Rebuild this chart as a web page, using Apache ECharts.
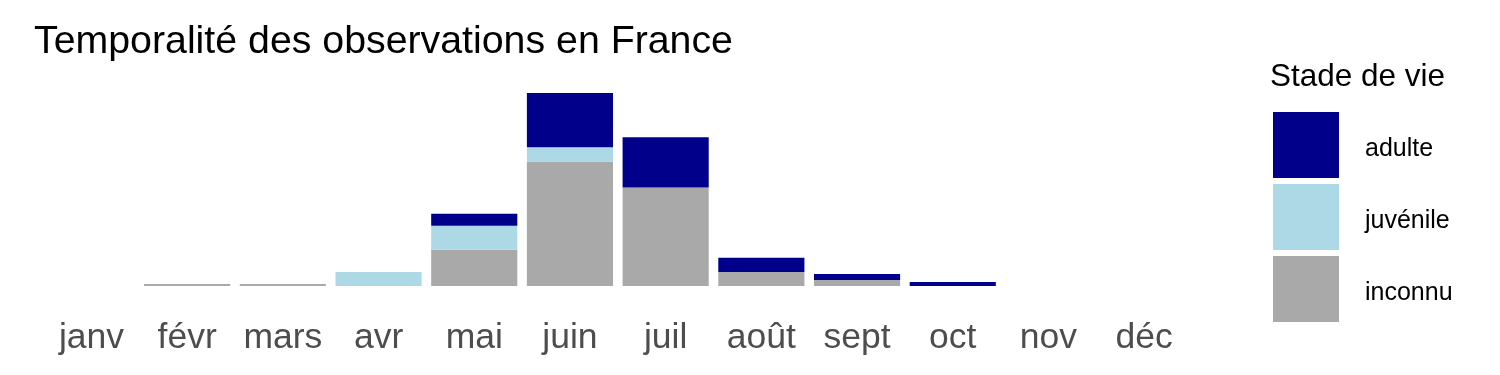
<!DOCTYPE html>
<html>
<head>
<meta charset="utf-8">
<script src="https://cdn.jsdelivr.net/npm/echarts@6/dist/echarts.min.js"></script>
<style>html,body{margin:0;padding:0;background:#fff}#c{width:1500px;height:375px}</style>
</head>
<body>
<div id="c"></div>
<script>
const months = ['janv','févr','mars','avr','mai','juin','juil','août','sept','oct','nov','déc'];
const inconnu  = [0, 1, 1, 0, 18, 62, 49, 7, 3, 0, 0, 0];
const juvenile = [0, 0, 0, 7, 12, 7, 0, 0, 0, 0, 0, 0];
const adulte   = [0, 0, 0, 0, 6, 27, 25, 7, 3, 2, 0, 0];
const legendOrder = ['adulte', 'juvénile', 'inconnu'];
const FONT = 'Liberation Sans, Arial, sans-serif';

const chart = echarts.init(document.getElementById('c'), null, {renderer: 'canvas'});
const mk = (name, data, color) => ({
  name, type: 'bar', stack: 'total', data, barCategoryGap: '10%',
  itemStyle: {color}, emphasis: {disabled: true}
});
chart.setOption({
  animation: false,
  backgroundColor: '#ffffff',
  title: [
    {text: 'Temporalité des observations en France', left: 29, top: 18,
     textStyle: {fontFamily: FONT, fontSize: 39.3, fontWeight: 'normal', color: '#000'}},
    {text: 'Stade de vie', left: 1265, top: 56,
     textStyle: {fontFamily: FONT, fontSize: 31.5, fontWeight: 'normal', color: '#000'}}
  ],
  legend: {
    data: legendOrder, orient: 'vertical', left: 1268, top: 107,
    itemWidth: 66, itemHeight: 66, itemGap: 6, icon: 'rect',
    formatter: name => '{a|' + name + '}',
    textStyle: {
      fontFamily: FONT, fontSize: 25, color: '#000',
      rich: {a: {fontFamily: FONT, fontSize: 25, color: '#000', padding: [8, 0, 0, 21]}}
    },
    selectedMode: false
  },
  grid: {left: 43.6, right: 308, top: 85, bottom: 89, containLabel: false},
  xAxis: {
    type: 'category', data: months,
    axisLine: {show: false}, axisTick: {show: false}, splitLine: {show: false},
    axisLabel: {fontFamily: FONT, fontSize: 35.5, color: '#4D4D4D', margin: 34, interval: 0}
  },
  yAxis: {type: 'value', min: 0, max: 100, show: false, splitLine: {show: false}},
  series: [
    mk('inconnu', inconnu, '#A9A9A9'),
    mk('juvénile', juvenile, '#ADD8E6'),
    mk('adulte', adulte, '#00008B')
  ]
});
</script>
</body>
</html>
